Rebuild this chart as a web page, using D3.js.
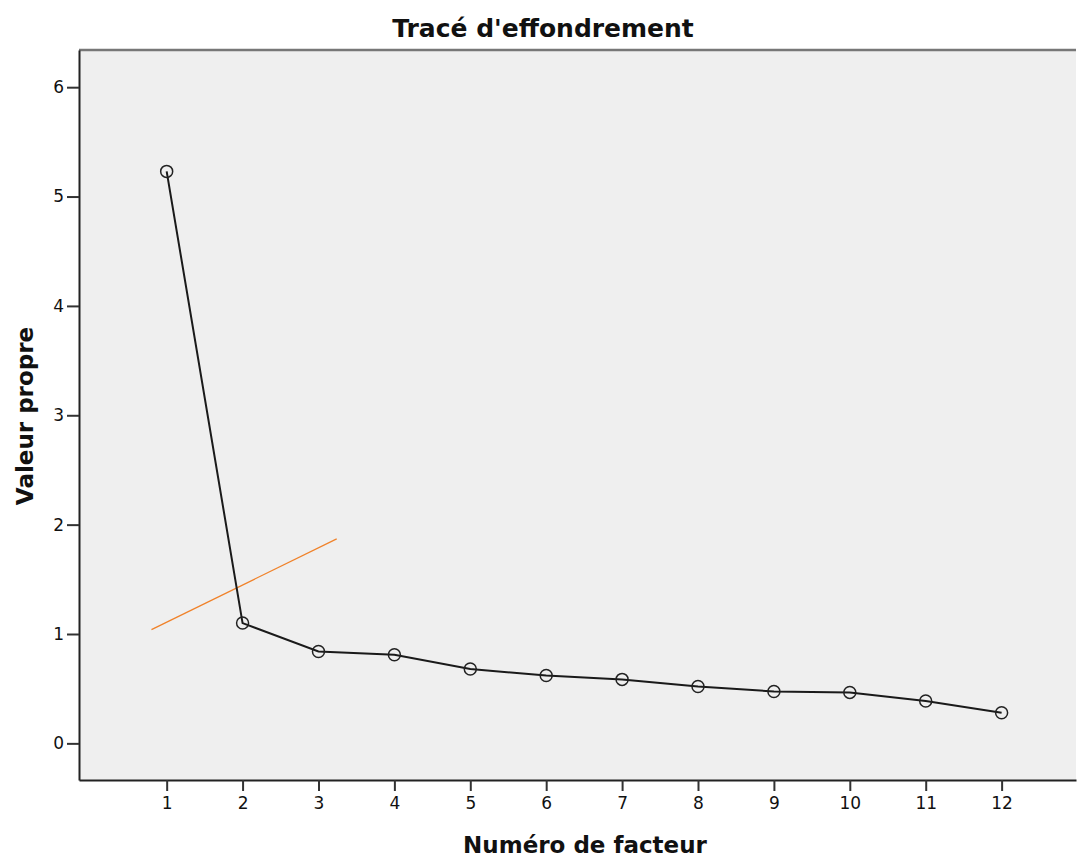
<!DOCTYPE html>
<html>
<head>
<meta charset="utf-8">
<script src="https://cdn.jsdelivr.net/npm/d3@7"></script>
<style>
  body { margin: 0; background: #fff; }
  text { font-family: "DejaVu Sans", sans-serif; fill: #111; }
</style>
</head>
<body>
<div id="chart"></div>
<script>
// données du tracé d'effondrement
const facteurs = [1, 2, 3, 4, 5, 6, 7, 8, 9, 10, 11, 12];
const valeursPropres = [5.23, 1.10, 0.84, 0.81, 0.68, 0.62, 0.585, 0.52, 0.475, 0.466, 0.387, 0.28];
const yTicks = [0, 1, 2, 3, 4, 5, 6];
// trait orange ajouté à la main (x, y en unités des axes)
const traitOrange = [[0.80, 1.04], [3.24, 1.87]];

const width = 1077, height = 857;
const margin = { top: 50, right: 1, bottom: 77, left: 79 };

const svg = d3.select('#chart').append('svg')
  .attr('width', width)
  .attr('height', height);

const x = d3.scaleLinear()
  .domain([-0.155, 12.98])
  .range([margin.left, width - margin.right]);

const y = d3.scaleLinear()
  .domain([-0.335, 6.34])
  .range([height - margin.bottom, margin.top]);

// fond gris
svg.append('rect')
  .attr('x', margin.left)
  .attr('y', margin.top)
  .attr('width', width - margin.right - margin.left)
  .attr('height', height - margin.bottom - margin.top)
  .attr('fill', '#efefef');

// bordure du haut
svg.append('line')
  .attr('x1', margin.left).attr('x2', width - margin.right)
  .attr('y1', margin.top).attr('y2', margin.top)
  .attr('stroke', '#777').attr('stroke-width', 2.5);

// axes
const xAxis = svg.append('g')
  .attr('transform', `translate(0,${height - margin.bottom})`)
  .call(d3.axisBottom(x).tickValues(facteurs).tickSize(11).tickPadding(6).tickSizeOuter(0));

const yAxis = svg.append('g')
  .attr('transform', `translate(${margin.left},0)`)
  .call(d3.axisLeft(y).tickValues(yTicks).tickFormat(d3.format('d')).tickSize(12).tickPadding(3).tickSizeOuter(0));

[xAxis, yAxis].forEach(a => {
  a.select('.domain').attr('stroke', '#222').attr('stroke-width', 2);
  a.selectAll('.tick line').attr('stroke', '#333').attr('stroke-width', 2);
  a.selectAll('.tick text')
    .style('font-family', '"DejaVu Sans", sans-serif')
    .style('font-size', '17px')
    .attr('fill', '#222');
});

// trait orange
svg.append('line')
  .attr('x1', x(traitOrange[0][0])).attr('y1', y(traitOrange[0][1]))
  .attr('x2', x(traitOrange[1][0])).attr('y2', y(traitOrange[1][1]))
  .attr('stroke', '#f0822a').attr('stroke-width', 1.3);

// courbe
const line = d3.line()
  .x((d, i) => x(facteurs[i]))
  .y(d => y(d));

svg.append('path')
  .datum(valeursPropres)
  .attr('d', line)
  .attr('fill', 'none')
  .attr('stroke', '#1a1a1a')
  .attr('stroke-width', 2);

svg.selectAll('circle.pt')
  .data(valeursPropres)
  .enter()
  .append('circle')
  .attr('class', 'pt')
  .attr('cx', (d, i) => x(facteurs[i]))
  .attr('cy', d => y(d))
  .attr('r', 6)
  .attr('fill', 'none')
  .attr('stroke', '#222')
  .attr('stroke-width', 1.5);

// titres
svg.append('text')
  .attr('x', 543).attr('y', 37)
  .attr('text-anchor', 'middle')
  .style('font-size', '25px')
  .style('font-weight', 'bold')
  .text("Tracé d'effondrement");

svg.append('text')
  .attr('x', 585)
  .attr('y', 853)
  .attr('text-anchor', 'middle')
  .style('font-size', '23px')
  .style('font-weight', 'bold')
  .text('Numéro de facteur');

svg.append('text')
  .attr('transform', `translate(33,416) rotate(-90)`)
  .attr('text-anchor', 'middle')
  .style('font-size', '23px')
  .style('font-weight', 'bold')
  .text('Valeur propre');
</script>
</body>
</html>
